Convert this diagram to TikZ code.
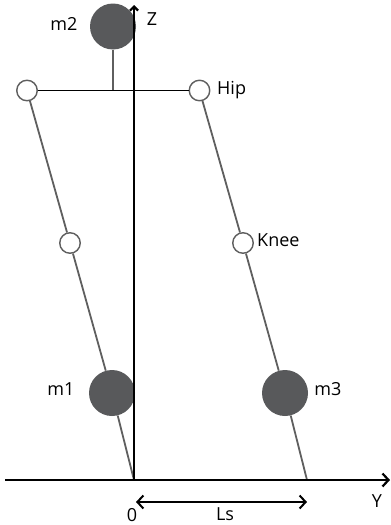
\documentclass[tikz,border=0pt]{standalone}
\usepackage{fontspec}
\setmainfont{Open Sans}
\usetikzlibrary{positioning}
\usetikzlibrary{arrows.meta}
\definecolor{massgray}{HTML}{58595B}
\definecolor{leggray}{HTML}{5F5F5F}
\newcommand{\bodylabel}[1]{
	\fontsize{18}{20}\selectfont #1
}

\begin{document}
\begin{tikzpicture}[x=1pt, y=-1pt,
	mass/.style={circle, fill=massgray, inner sep=0pt, minimum size=46pt},
	joint/.style={circle, draw=leggray, fill=white, line width=1.4pt, inner sep=0pt, minimum size=20.5pt},
	leg/.style={leggray, line width=1.8pt},
	axis/.style={black, line width=2.2pt},
	lbl/.style={inner sep=0pt},
	>={Straight Barb[length=6pt, width=13pt]}]
\useasboundingbox (0,0) rectangle (391,525);

% masses and joints
\node[mass]  (m2)    at (113,26.5) {};
\node[joint] (hipL)  at (27,90.5)  {};
\node[joint] (hipR)  at (199.5,90.5) {};
\node[joint] (kneeL) at (70,243)   {};
\node[joint] (kneeR) at (243,243)  {};
\node[mass]  (m1)    at (112,393)  {};
\node[mass]  (m3)    at (285,393)  {};

\coordinate (O)     at (134,480);
\coordinate (footR) at (307,480);
\coordinate (Ztip)  at (134,5);
\coordinate (Gl)    at (5,480);
\coordinate (Gr)    at (390,480);
\coordinate (LsL)   at (136,502);
\coordinate (LsR)   at (307,502);

% legs
\draw[leg] (hipL) -- (kneeL) -- (m1) -- (O);
\draw[leg] (hipR) -- (kneeR) -- (m3) -- (footR);
\draw[leg] (m2) -- (m2 |- hipL);
\draw[black, line width=1.8pt] (hipL) -- (hipR);

% axes
\draw[axis, -{Straight Barb[length=4pt, width=8pt]}] (O) -- (Ztip);
\draw[axis, ->] (Gl) -- (Gr);
\draw[black, line width=2pt, <->] (LsL) -- (LsR);

% labels
\node[lbl, anchor=base]      (m2txt)   at (64,30)   {\bodylabel{m2}};
\node[lbl, anchor=base]      (ztxt)    at (152,25)  {\bodylabel{Z}};
\node[lbl, anchor=base west] (hiptxt)  at (217,94)  {\bodylabel{Hip}};
\node[lbl, anchor=base west] (kneetxt) at (257,246) {\bodylabel{Knee}};
\node[lbl, anchor=base]      (m1txt)   at (61,395)  {\bodylabel{m1}};
\node[lbl, anchor=base]      (m3txt)   at (328,395) {\bodylabel{m3}};
\node[lbl, anchor=base]      (ytxt)    at (377,507) {\bodylabel{Y}};
\node[lbl, anchor=base]      (otxt)    at (132,521) {\bodylabel{0}};
\node[lbl, anchor=base]      (lstxt)   at (225,520) {\bodylabel{Ls}};
\end{tikzpicture}
\end{document}
